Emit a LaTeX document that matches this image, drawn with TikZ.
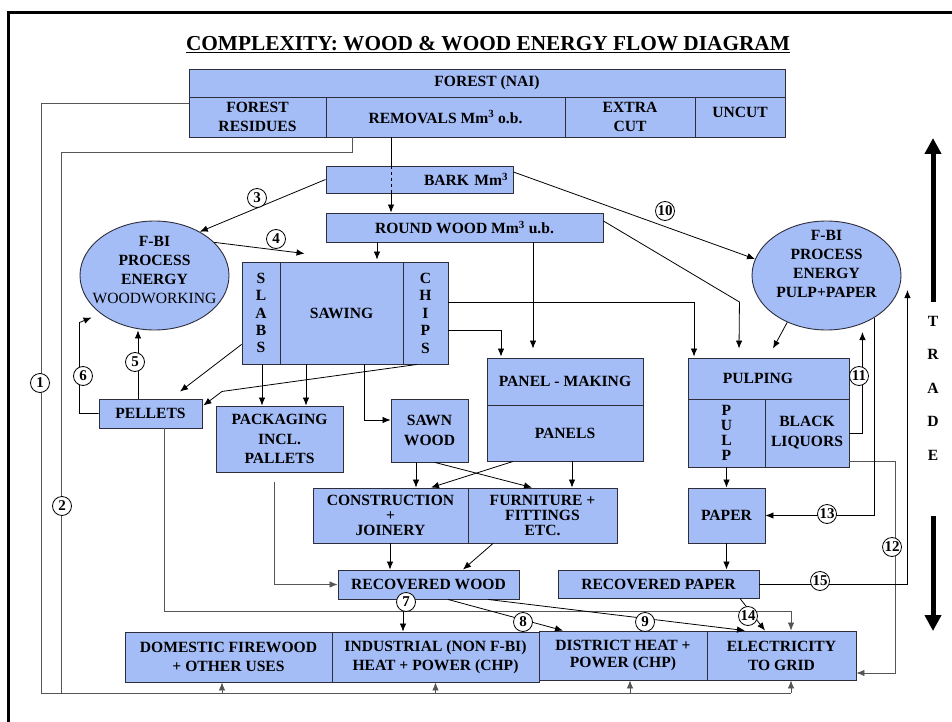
\documentclass[tikz,border=0pt]{standalone}
\usepackage{fontspec}
\setmainfont{Liberation Serif}
\usetikzlibrary{arrows.meta, positioning, shapes.geometric}
\definecolor{boxblue}{RGB}{165,189,247}
\definecolor{boxline}{RGB}{45,45,60}
\definecolor{feedline}{RGB}{85,85,85}
\newcommand{\boxfont}[1]{\fontsize{15.6}{#1}\selectfont\bfseries}
\tikzset{box/.style = {draw=boxline, fill=boxblue, line width=0.9pt, inner sep=0pt,
		align=center, font=\boxfont{19}},
	procell/.style = {ellipse, draw=boxline, fill=boxblue, line width=0.9pt,
		minimum width=149pt, minimum height=109pt, inner sep=0pt},
	num/.style = {circle, draw, fill=white, line width=0.8pt, minimum size=19pt,
		inner sep=0pt, font=\fontsize{15}{15}\selectfont\bfseries}
}

\begin{document}
\begin{tikzpicture}[x=1pt, y=-1pt,
	arrow/.style={-{Latex[length=8pt, width=6.5pt]}, line width=0.8pt},
	feed/.style={draw=feedline, line width=1pt},
	tradearrow/.style={-{Triangle[length=16pt, width=16pt]}, line width=5pt},
	ptext/.style={align=center, inner sep=0pt, font=\boxfont{19}}
	]
	\useasboundingbox (0,0) rectangle (952,722);
	\draw[line width=2.6pt] (8.7,722) -- (8.7,12.3) -- (952,12.3);
	
	\node[font=\fontsize{21.3}{24}\selectfont\bfseries] (title) at (488,45) {\underline{COMPLEXITY: WOOD \& WOOD ENERGY FLOW DIAGRAM}};
	
	\node[box, minimum width=596pt, minimum height=28pt] (forest) at (487,83) {FOREST (NAI)};
	\node[box, minimum width=137pt, minimum height=40pt] (residues) at (257.5,117) {FOREST\\RESIDUES};
	\node[box, minimum width=239pt, minimum height=40pt] (removals) at (445.5,117) {REMOVALS Mm\textsuperscript{3} o.b.};
	\node[box, minimum width=130pt, minimum height=40pt] (extracut) at (630,117) {EXTRA\\CUT};
	\node[box, minimum width=90pt, minimum height=40pt, text depth=10pt] (uncut) at (740,117) {UNCUT};
	
	\node[box, minimum width=187pt, minimum height=27pt, text width=177pt, align=right] (bark) at (419.5,179.5) {BARK Mm\textsuperscript{3}};
	\node[box, minimum width=277pt, minimum height=29pt] (roundwood) at (464.5,227.5) {ROUND WOOD Mm\textsuperscript{3} u.b.};
	
	\node[procell] (fbiwood) at (154.5,275.5) {};
	\node[ptext] (fbiwoodtext) at (154.5,270) {F-BI\\PROCESS\\ENERGY\\{\mdseries WOODWORKING}};
	\node[procell] (fbipulp) at (826.5,275.5) {};
	\node[ptext] (fbipulptext) at (826.5,264) {F-BI\\PROCESS\\ENERGY\\PULP+PAPER};
	
	\node[box, minimum width=38pt, minimum height=102pt, font=\boxfont{17.3}] (slabs) at (261,313) {S\\L\\A\\B\\S};
	\node[box, minimum width=123pt, minimum height=102pt] (sawing) at (341.5,313) {SAWING};
	\node[box, minimum width=45pt, minimum height=102pt, font=\boxfont{17.5}] (chips) at (425.5,313) {C\\H\\I\\P\\S};
	
	\node[box, minimum width=103pt, minimum height=29pt] (pellets) at (150.5,413.5) {PELLETS};
	\node[box, minimum width=127pt, minimum height=66pt, font=\boxfont{19.5}] (packaging) at (279.5,439) {PACKAGING\\INCL.\\PALLETS};
	\node[box, minimum width=77pt, minimum height=63pt, font=\boxfont{20}] (sawnwood) at (429.5,430.5) {SAWN\\WOOD};
	\node[box, minimum width=156pt, minimum height=47pt] (panelmaking) at (565,381.5) {PANEL - MAKING};
	\node[box, minimum width=156pt, minimum height=56pt] (panels) at (565,433) {PANELS};
	\node[box, minimum width=161pt, minimum height=41pt] (pulping) at (768.5,378.5) {PULPING\hspace*{21pt}};
	\node[box, minimum width=77pt, minimum height=68pt, font=\boxfont{15}] (pulp) at (726.5,433) {P\\U\\L\\P};
	\node[box, minimum width=84pt, minimum height=68pt, font=\boxfont{20}] (liquors) at (807,433) {BLACK\\LIQUORS};
	
	\node[box, minimum width=155pt, minimum height=55pt, font=\boxfont{15}] (construction) at (390.5,515.5) {CONSTRUCTION\\+\\JOINERY};
	\node[box, minimum width=149pt, minimum height=55pt, font=\boxfont{15}] (furniture) at (542.5,515.5) {FURNITURE +\\FITTINGS\\ETC.};
	\node[box, minimum width=77pt, minimum height=55pt] (paper) at (726.5,515.5) {PAPER};
	\node[box, minimum width=181pt, minimum height=29pt] (recwood) at (428.5,584.5) {RECOVERED WOOD};
	\node[box, minimum width=201pt, minimum height=28pt] (recpaper) at (658.5,584) {RECOVERED PAPER};
	
	\node[box, minimum width=207pt, minimum height=50pt] (domestic) at (228.5,657) {DOMESTIC FIREWOOD\\+ OTHER USES};
	\node[box, minimum width=207pt, minimum height=50pt] (industrial) at (435.5,657) {INDUSTRIAL (NON F-BI)\\HEAT + POWER (CHP)};
	\node[box, minimum width=168pt, minimum height=49pt, font=\boxfont{17}] (district) at (623,655.5) {DISTRICT HEAT +\\POWER (CHP)};
	\node[box, minimum width=149pt, minimum height=49pt] (electricity) at (781.5,655.5) {ELECTRICITY\\TO GRID};
	
	\node[ptext, font=\boxfont{33.5}] (trade) at (933,388) {T\\R\\A\\D\\E};
	\coordinate (tradeup) at (933,138);
	\coordinate (tradedown) at (933,631);
	\draw[tradearrow] ([shift={(0,-14)}]trade.north) -- (tradeup);
	\draw[tradearrow] ([shift={(0,56)}]trade.south) -- (tradedown);
	
	% Connections
	\coordinate (trunk) at (41,693);
	\coordinate (trunkb) at (61,693);
	\draw[feed] ([shift={(0,-13)}]residues.west) -| (trunk);
	\draw[feed] ([shift={(-93.5,0)}]removals.south) -- ++(0,15) -| (trunkb);
	\foreach \b/\dx in {domestic/-6.5, industrial/0, district/7, electricity/9.5}{
		\coordinate (\b-in) at ([shift={(\dx,0)}]\b.south);
		\draw[feed, arrow] (\b-in |- trunk) -- (\b-in);
	}
	\draw[feed] (trunk) -- (electricity-in |- trunk);
	
	\coordinate (rw-in) at ([shift={(-73.5,0)}]roundwood.north);
	\draw[line width=0.8pt] (rw-in |- removals.south) -- (rw-in |- bark.north);
	\draw[line width=0.8pt, dashed] (rw-in |- bark.north) -- (rw-in |- bark.south);
	\draw[arrow] (rw-in |- bark.south) -- (rw-in);
	\draw[arrow] (bark.west) -- (fbiwood.44);
	\draw[arrow] (fbiwood.29) -- ([shift={(25,-8)}]sawing.north west);
	\coordinate (saw-in) at ([shift={(35.5,-2)}]sawing.north);
	\draw[arrow] (saw-in |- roundwood.south) -- (saw-in);
	\draw[arrow] ([shift={(0,-7.5)}]bark.east) -- (fbipulp.167);
	\draw[arrow] ([shift={(0,-6.5)}]roundwood.east) -- ++(136,81) -- ([shift={(-29.5,-9)}]pulping.north);
	\coordinate (pm-in) at ([shift={(-32,-9)}]panelmaking.north);
	\draw[arrow] (pm-in |- roundwood.south) -- (pm-in);
	\draw[arrow] ([shift={(0,-11)}]chips.east) -| ([shift={(-74.5,-1)}]pulping.north);
	\draw[arrow] ([shift={(0,17)}]chips.east) -| ([shift={(-64,-1)}]panelmaking.north);
	
	\draw[arrow] ([shift={(0,-20)}]slabs.south west) -- ([shift={(29.5,-7)}]pellets.north);
	\draw[arrow] ([shift={(-8.5,0)}]chips.south) -- ++(-195,27) -- ([shift={(1,-8)}]pellets.east);
	\coordinate (pk-a) at ([shift={(-17.5,0)}]packaging.north);
	\coordinate (pk-b) at ([shift={(26.5,0)}]packaging.north);
	\draw[arrow] (pk-a |- slabs.south) -- (pk-a);
	\draw[arrow] (pk-b |- sawing.south) -- (pk-b);
	\draw[arrow] ([shift={(22.5,0)}]sawing.south) |- ([shift={(0,-10.5)}]sawnwood.west);
	
	\draw[arrow] ([shift={(-12.5,0)}]pellets.north) -- ([shift={(-16.5,0)}]fbiwood.south);
	\draw[arrow] (pellets.west) -- ++(-19,0) -- ++(0,-91) -- ++(12,-5);
	\coordinate (el-top) at ([shift={(9.5,0)}]electricity.north);
	\draw[feed, arrow] ([shift={(13.5,0)}]pellets.south) |- ([shift={(0,-19)}]el-top) -- (el-top);
	\draw[feed, arrow] ([shift={(-5.5,10)}]packaging.south) |- (recwood.west);
	
	\coordinate (co-a) at ([shift={(25.5,0)}]construction.north);
	\draw[arrow] (co-a |- sawnwood.south) -- (co-a);
	\draw[arrow] ([shift={(5.5,0)}]sawnwood.south) -- ([shift={(-10.5,0)}]furniture.north);
	\draw[arrow] ([shift={(-52,0)}]panels.south) -- ([shift={(40.5,0)}]construction.north);
	\coordinate (fu-a) at ([shift={(29.5,0)}]furniture.north);
	\draw[arrow] (fu-a |- panels.south) -- (fu-a);
	\coordinate (rw-a) at ([shift={(-38.5,0)}]recwood.north);
	\draw[arrow] (rw-a |- construction.south) -- (rw-a);
	\draw[arrow] ([shift={(-49.5,0)}]furniture.south) -- ([shift={(34.5,0)}]recwood.north);
	
	\coordinate (in-a) at ([shift={(-32.5,0)}]industrial.north);
	\draw[arrow] (in-a |- recwood.south) -- (in-a);
	\draw[arrow] ([shift={(19.5,0)}]recwood.south) -- ([shift={(-60,0)}]district.north);
	\draw[arrow] ([shift={(59.5,0)}]recwood.south) -- ([shift={(-36.5,0)}]electricity.north);
	
	\draw[arrow] (pulp.south) -- (paper.north);
	\draw[arrow] (paper.south) -- (paper.south |- recpaper.north);
	\draw[arrow] ([shift={(81.5,0)}]recpaper.south) -- ([shift={(-16.5,0)}]electricity.north);
	\draw[arrow] (fbipulp.230) -- ([shift={(4.5,-9)}]pulping.north);
	\draw[arrow] (liquors.east) -- ++(13,0) -- ++(0,-101);
	\draw[feed, arrow] ([shift={(0,-6)}]liquors.south east) -- ++(46,0) |- ([shift={(0,17.5)}]electricity.east);
	\draw[arrow] (fbipulp.-41) |- (paper.east);
	\draw[arrow] (recpaper.east) -- ++(148,0) -- ++(0,-294);
	
	% flow numbers
	\node[num] (n1) at (40,383) {1};
	\node[num] (n2) at (62,506) {2};
	\node[num] (n3) at (257,198) {3};
	\node[num] (n4) at (276,239) {4};
	\node[num] (n5) at (135,362) {5};
	\node[num] (n6) at (83,376) {6};
	\node[num] (n7) at (406,602) {7};
	\node[num] (n8) at (523,622) {8};
	\node[num] (n9) at (645,622) {9};
	\node[num] (n10) at (665,211) {10};
	\node[num] (n11) at (859,376) {11};
	\node[num] (n12) at (892,547) {12};
	\node[num] (n13) at (827,514) {13};
	\node[num] (n14) at (748,616) {14};
	\node[num] (n15) at (820,581) {15};
\end{tikzpicture}
\end{document}
